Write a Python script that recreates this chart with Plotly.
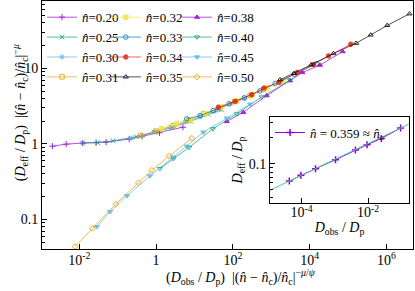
import plotly.graph_objects as go

FONT = "Liberation Serif"

# ---------------- main panel data ----------------
n_values = ["0.20", "0.25", "0.30", "0.31", "0.32", "0.33", "0.34", "0.35",
            "0.38", "0.40", "0.45", "0.50"]

x_020 = [2.0e-3, 4.57e-3, 1.23e-2, 2.75e-2, 5.0e-2, 0.20, 0.437, 1.23, 5.0]
y_020 = [0.933, 0.993, 1.026, 1.037, 1.057, 1.156, 1.268, 1.403, 1.663]

x_025 = [1.23e-2, 3.02e-2, 7.59e-2, 0.302, 0.891, 2.63, 7.94, 22.4, 50.1]
y_025 = [1.026, 1.042, 1.099, 1.245, 1.429, 1.641, 1.995, 2.455, 2.818]

x_030 = [0.224, 0.437, 0.891, 2.24, 5.62, 14.1, 35.5, 89.1, 200]
y_030 = [1.189, 1.288, 1.445, 1.660, 1.950, 2.291, 2.754, 3.388, 3.981]

x_031 = [0.398, 1.0, 2.82, 7.08, 17.8, 44.7, 112, 282, 631]
y_031 = [1.288, 1.479, 1.738, 2.042, 2.512, 3.020, 3.631, 4.365, 5.248]

x_032 = [1.41, 3.47, 7.76, 20.0, 50.1, 126, 316, 794, 2000]
y_032 = [1.585, 1.845, 2.080, 2.512, 3.090, 3.715, 4.467, 5.495, 6.761]

x_033 = [6.31, 14.1, 30.9, 79.4, 200, 501, 1259, 3981, 15100]
y_033 = [2.148, 2.371, 2.761, 3.388, 4.074, 5.012, 6.310, 8.318, 11.48]

x_034 = [41.7, 115, 309, 646, 1585, 4786, 12590, 30900, 117500]
y_034 = [3.048, 3.656, 4.477, 5.483, 6.501, 8.810, 11.22, 14.59, 20.80]

x_035 = [1698, 3890, 10960, 41690, 162200, 389000, 1.047e6, 3.98e6]
y_035 = [7.063, 8.551, 11.12, 15.67, 21.48, 27.61, 36.98, 52.60]

x_038 = [69.2, 186, 759, 3090, 6457, 18620, 72440]
y_038 = [1.977, 2.618, 4.345, 6.855, 8.810, 11.02, 16.63]

x_040 = [1.259, 2.818, 7.244, 30.2, 125.9, 562, 3090]
y_040 = [0.472, 0.638, 0.899, 1.585, 2.495, 4.169, 6.998]

x_045 = [2.88e-2, 6.31e-2, 0.174, 0.692, 2.818, 6.31, 17.0, 69.2, 282]
y_045 = [0.0804, 0.1268, 0.2056, 0.3767, 0.670, 0.933, 1.429, 2.188, 3.35]

x_050 = [7.76e-3, 2.19e-2, 8.91e-2, 0.347, 0.776, 2.19, 8.51]
y_050 = [0.0439, 0.0766, 0.160, 0.305, 0.448, 0.690, 1.191]

xs = [x_020, x_025, x_030, x_031, x_032, x_033, x_034, x_035, x_038, x_040, x_045, x_050]
ys = [y_020, y_025, y_030, y_031, y_032, y_033, y_034, y_035, y_038, y_040, y_045, y_050]

# ---------------- inset data ----------------
inset_label = "0.359"
inset_x = [4.27e-5, 9.55e-5, 2.63e-4, 1.05e-3, 4.17e-3, 9.33e-3, 2.51e-2, 9.55e-2]
inset_y = [0.0630, 0.0733, 0.0875, 0.1114, 0.1442, 0.1663, 0.1972, 0.260]
fit_x = [1.12e-5, 0.170]
fit_y = [0.0492, 0.289]

# tick labels
main_x_tickvals = [1e-2, 1, 1e2, 1e4, 1e6]
main_x_ticktext = ["10<sup>-2</sup>", "1", "10<sup>2</sup>", "10<sup>4</sup>", "10<sup>6</sup>"]
main_y_tickvals = [0.1, 1, 10]
main_y_ticktext = ["0.1", "1", "10"]
inset_x_tickvals = [1e-4, 1e-2]
inset_x_ticktext = ["10<sup>-4</sup>", "10<sup>-2</sup>"]
inset_y_tickvals = [0.1]
inset_y_ticktext = ["0.1"]

main_x_title = ("(<i>D</i><sub>obs</sub> / <i>D</i><sub>p</sub>)  |(<i>n̂</i> − <i>n̂</i><sub>c</sub>)"
                "/<i>n̂</i><sub>c</sub>|<sup>−<i>μ</i>/<i>ψ</i></sup>")
main_y_title = ("(<i>D</i><sub>eff</sub> / <i>D</i><sub>p</sub>)  |(<i>n̂</i> − <i>n̂</i><sub>c</sub>)"
                "/<i>n̂</i><sub>c</sub>|<sup>−<i>μ</i></sup>")

# ---------------- styles ----------------
colors = ["#9400d3", "#009e73", "#56b4e9", "#e69f00", "#f0e442", "#0072b2",
          "#e51e10", "#000000", "#9400d3", "#009e73", "#56b4e9", "#e69f00"]
symbols = ["cross-thin", "x-thin", "asterisk", "square-open", "square", "circle-open",
           "circle", "triangle-up-open", "triangle-up", "triangle-down-open",
           "triangle-down", "diamond-open"]
legend_ids = ["legend"] * 4 + ["legend2"] * 4 + ["legend3"] * 4

fig = go.Figure()
for i in range(len(n_values)):
    fig.add_trace(go.Scatter(
        x=xs[i], y=ys[i], mode="lines+markers",
        name="<i>n̂</i>=" + n_values[i],
        line=dict(color=colors[i], width=0.8),
        marker=dict(symbol=symbols[i], size=4.5, color=colors[i],
                    line=dict(color=colors[i], width=1)),
        opacity=0.85,
        legend=legend_ids[i],
        xaxis="x", yaxis="y",
    ))

# inset
fig.add_trace(go.Scatter(
    x=inset_x, y=inset_y, mode="lines+markers",
    name="<i>n̂</i> = " + inset_label + " ≈ <i>n̂</i><sub>c</sub>",
    line=dict(color="#9400d3", width=1),
    marker=dict(symbol="cross-thin", size=5, color="#9400d3",
                line=dict(color="#9400d3", width=1.5)),
    legend="legend4", xaxis="x2", yaxis="y2",
))
fig.add_trace(go.Scatter(
    x=fit_x, y=fit_y, mode="lines", showlegend=False,
    line=dict(color="#4fc9a4", width=1),
    xaxis="x2", yaxis="y2",
))

minor_main_y = [m * 10.0 ** k for k in range(-2, 2) for m in range(2, 10)]
minor_inset_y = [m * 10.0 ** k for k in range(-2, 0) for m in range(2, 10)]

axis_common = dict(
    type="log", showline=True, linecolor="black", linewidth=1, mirror=True,
    ticks="inside", ticklen=5, tickcolor="black", tickwidth=1, showgrid=False,
    zeroline=False, tickmode="array", automargin=False,
    tickfont=dict(family=FONT, size=14, color="black"),
)

title_font = dict(family=FONT, size=14, color="black")

fig.update_layout(
    template="none",
    width=415, height=291,
    margin=dict(l=42, r=2, t=1, b=42, pad=0, autoexpand=False),
    paper_bgcolor="white", plot_bgcolor="white",
    font=dict(family=FONT, size=13, color="black"),
    xaxis=dict(axis_common, domain=[0, 1], range=[-2.97, 6.69],
               tickvals=main_x_tickvals, ticktext=main_x_ticktext,
               ticklabelstandoff=-2),
    yaxis=dict(axis_common, domain=[0, 1], range=[-1.39, 1.89],
               tickvals=main_y_tickvals, ticktext=main_y_ticktext,
               minor=dict(tickvals=minor_main_y, ticks="inside", ticklen=3,
                          tickcolor="black", showgrid=False)),
    xaxis2=dict(axis_common, domain=[0.6146, 0.989], anchor="y2", range=[-4.95, -0.77],
                tickvals=inset_x_tickvals, ticktext=inset_x_ticktext,
                ticklabelstandoff=-3,
                title=dict(text="<i>D</i><sub>obs</sub> / <i>D</i><sub>p</sub>",
                           font=title_font, standoff=0)),
    yaxis2=dict(axis_common, domain=[0.1867, 0.531], anchor="x2", range=[-1.453, -0.46],
                tickvals=inset_y_tickvals, ticktext=inset_y_ticktext,
                minor=dict(tickvals=minor_inset_y, ticks="inside", ticklen=3,
                           tickcolor="black", showgrid=False),
                title=dict(text="<i>D</i><sub>eff</sub> / <i>D</i><sub>p</sub>",
                           font=title_font, standoff=2)),
    legend=dict(x=0.0, y=0.995, xanchor="left", yanchor="top",
                bgcolor="rgba(0,0,0,0)", font=dict(family=FONT, size=13)),
    legend2=dict(x=0.172, y=0.995, xanchor="left", yanchor="top",
                 bgcolor="rgba(0,0,0,0)", font=dict(family=FONT, size=13)),
    legend3=dict(x=0.364, y=0.995, xanchor="left", yanchor="top",
                 bgcolor="rgba(0,0,0,0)", font=dict(family=FONT, size=13)),
    legend4=dict(x=0.6146, y=0.53, xanchor="left", yanchor="top",
                 bgcolor="rgba(0,0,0,0)", font=dict(family=FONT, size=13)),
    annotations=[
        dict(text=main_x_title, xref="paper", yref="paper", x=0.536, y=-0.113,
             xanchor="center", yanchor="middle", showarrow=False, font=title_font),
        dict(text=main_y_title, xref="paper", yref="paper", x=-0.059, y=0.548,
             xanchor="center", yanchor="middle", textangle=-90, showarrow=False,
             font=title_font),
    ],
)

fig.write_html("out.html", config={"displayModeBar": False},
               post_script="document.body.style.margin='0';document.body.style.padding='0';")
